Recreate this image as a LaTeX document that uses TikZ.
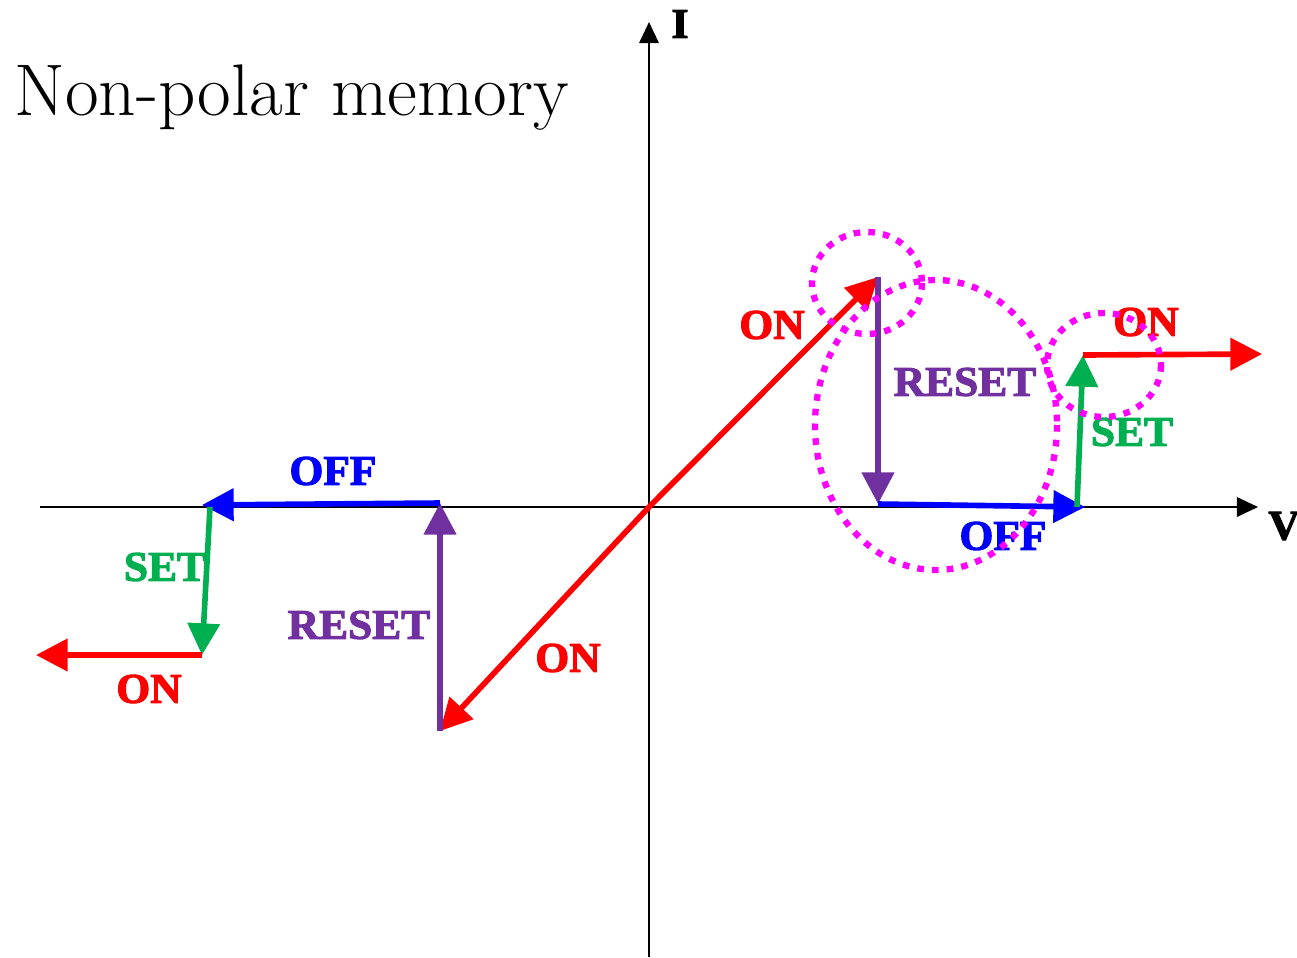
\documentclass[tikz,border=0pt]{standalone}
\usepackage{fontspec}
\usetikzlibrary{arrows.meta, positioning}
\newfontfamily\labelfont[FakeStretch=1.03, BoldFeatures={FakeBold=2.5}]{Liberation Serif}
\definecolor{onred}{RGB}{255,0,0}
\definecolor{offblue}{RGB}{0,0,255}
\definecolor{resetpurple}{RGB}{112,48,160}
\definecolor{setgreen}{RGB}{0,176,80}
\definecolor{ringpink}{RGB}{255,0,255}

\begin{document}
\begin{tikzpicture}[
    x=0.01cm,
    y=-0.01cm,
    axis/.style={
        -{Triangle[length=6pt, width=5.5pt]},
        line width=0.7pt
    },
    branch/.style={
        -{Triangle[length=9pt, width=9pt]},
        line width=1.6pt
    },
    tag/.style={
        inner sep=0pt,
        font=\labelfont\bfseries\fontsize{12}{12}\selectfont
    },
    ring/.style={
        draw=ringpink,
        line width=1.8pt,
        dash pattern=on 1.9pt off 2.3pt
    }
]
\useasboundingbox (0,0) rectangle (1297,957);

% axes
\coordinate (v_start) at (40,507);
\coordinate (v_end) at (1258,507);
\coordinate (i_start) at (649,957);
\coordinate (i_end) at (649,22);
\coordinate (origin) at (649,507);
\draw[axis] (v_start) -- (v_end);
\draw[axis] (i_start) -- (i_end);
\node[tag, font=\labelfont\bfseries\fontsize{12}{12}\selectfont] (v_label) at (1284,526) {V};
\node[tag, font=\labelfont\bfseries\fontsize{12}{12}\selectfont] (i_label) at (680,24) {I};

\node[anchor=base west, inner sep=0pt, font=\fontsize{20.8}{21}\selectfont] (title) at (14,115) {Non-polar memory};

% positive side
\coordinate (pos_top) at (878,277);
\coordinate (pos_low) at (878,504);
\coordinate (pos_off) at (1085,507);
\coordinate (pos_set) at (1083,355);
\coordinate (pos_on) at (1262,354);

% negative side
\coordinate (neg_bot) at (440,731);
\coordinate (neg_up) at (440,503);
\coordinate (neg_off) at (202,505);
\coordinate (neg_set) at (202,655);
\coordinate (neg_on) at (36,655);

\draw[branch, onred] (origin) -- (pos_top);
\draw[branch, resetpurple] (pos_top) -- (pos_low);
\draw[branch, offblue] (pos_low) -- (pos_off);
\draw[branch, setgreen] (1077,507) -- (pos_set);
\draw[branch, onred] (pos_set) -- (pos_on);

\draw[branch, onred] (origin) -- (neg_bot);
\draw[branch, resetpurple] (neg_bot) -- (neg_up);
\draw[branch, offblue] (neg_up) -- (neg_off);
\draw[branch, setgreen] (210,507) -- (neg_set);
\draw[branch, onred] (neg_set) -- (neg_on);

% labels
\node[tag, onred] (on_diag_up) at (772,325) {ON};
\node[tag, resetpurple] (reset_right) at (965,382) {RESET};
\node[tag, offblue] (off_right) at (1003,536) {OFF};
\node[tag, setgreen] (set_right) at (1132,432) {SET};
\node[tag, onred] (on_right) at (1146,322) {ON};

\node[tag, offblue] (off_left) at (333,471) {OFF};
\node[tag, setgreen] (set_left) at (165,567) {SET};
\node[tag, resetpurple] (reset_left) at (359,625) {RESET};
\node[tag, onred] (on_left) at (149,689) {ON};
\node[tag, onred] (on_diag_down) at (568,658) {ON};

% dotted rings
\draw[ring] (867,283) ellipse [x radius=55, y radius=51];
\draw[ring] (936,425) ellipse [x radius=121, y radius=145];
\draw[ring] (1104,365) ellipse [x radius=57, y radius=52];

\end{tikzpicture}
\end{document}
